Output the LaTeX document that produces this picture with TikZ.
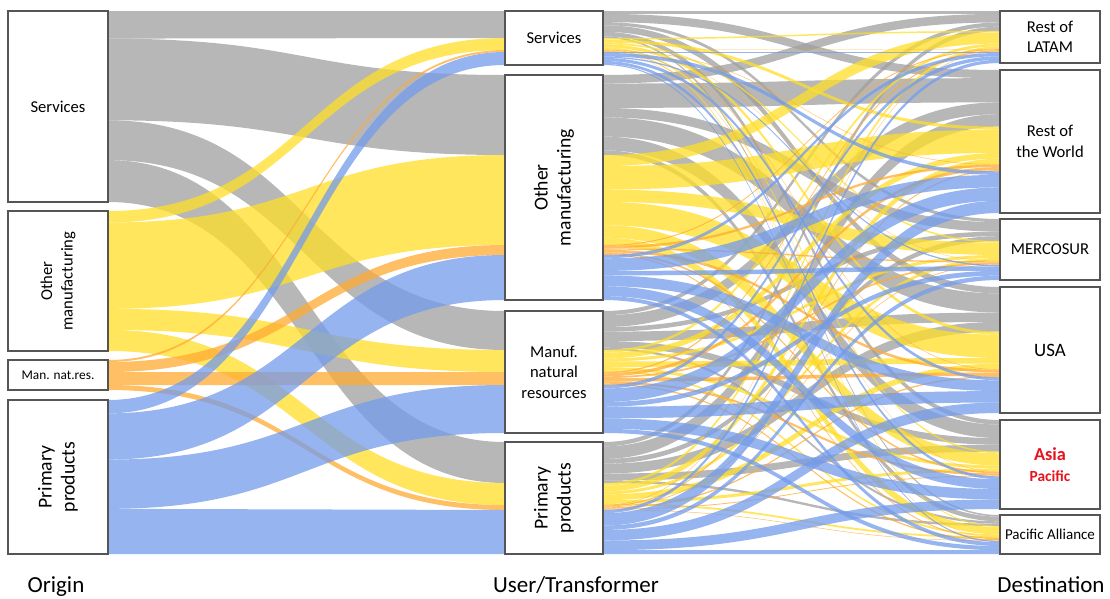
\documentclass[tikz,border=0pt]{standalone}
\usepackage{fontspec}
\setmainfont{Carlito}
\usepackage{tikz}
\definecolor{flowgray}{RGB}{160,160,160}
\definecolor{flowyellow}{RGB}{255,222,40}
\definecolor{floworange}{RGB}{255,170,50}
\definecolor{flowblue}{RGB}{115,155,235}
\definecolor{boxline}{RGB}{85,85,85}
\definecolor{asiared}{RGB}{230,20,30}
\newcommand{\FlowBand}[7]{
	\def\lxa{#1}
	\def\lxb{#4}
	\pgfmathsetmacro\lxm{(#1+#4)/2}
	\fill[#7, fill opacity=0.75] (\lxa,#2) .. controls (\lxm,#2) and (\lxm,#5) .. (\lxb,#5) -- (\lxb,#6) .. controls (\lxm,#6) and (\lxm,#3) .. (\lxa,#3) -- cycle;
}
% segment data: index 4*user+colour
\def\MidTop{{11,38,50,52,75,155,245,255,311,350,372,385,442,483,505,510}}
\def\MidH{{27,12,2,13,80,90,10,45,39,22,13,48,41,22,5,44}}
\def\MidPre{{0,0,0,0,27,12,2,13,107,102,12,58,146,124,25,106}}
\def\ColH{{187,146,30,150}}
\def\OrgTop{{11,211,360,400}}
\def\OrgH{{191,140,30,154}}
% destination data: index 6*colour+destination
\def\DestW{{20,57,22,45,32,11,18,38,20,38,20,12,3,7,4,8,5,3,11,42,15,36,33,13}}
\def\DestWPre{{0,20,77,99,144,176,0,18,56,76,114,134,0,3,10,14,22,27,0,11,53,68,104,137}}
\def\DestCPre{{0,0,0,0,0,0,20,57,22,45,32,11,38,95,42,83,52,23,41,102,46,91,57,26}}
\def\DestTop{{11,70,219,287,420,515}}
\def\DestK{{1,0.993,1,0.992,0.989,1}}

\begin{document}
\begin{tikzpicture}[x=1pt, y=-1pt,
	box/.style={draw=boxline, fill=white, line width=1.2pt, inner sep=0pt, align=center, minimum width=100pt},
	ubox/.style={box, minimum width=98pt},
	txt/.style={font=\fontsize{16.6}{20.5}\selectfont},
	bigtxt/.style={font=\fontsize{19.7}{23}\selectfont},
	axlbl/.style={font=\fontsize{23}{26}\selectfont, anchor=base}]

	\useasboundingbox (0,0) rectangle (1110,598);
	\fill[white] (0,0) rectangle (1110,598);

	% origin -> user
	\foreach \c/\col in {0/flowgray,1/flowyellow,2/floworange,3/flowblue}{
		\foreach \m in {0,...,3}{
			\pgfmathtruncatemacro\ii{4*\m+\c}
			\pgfmathsetmacro\ka{\OrgH[\c]/\ColH[\c]}
			\pgfmathsetmacro\ya{\OrgTop[\c]+\ka*\MidPre[\ii]}
			\pgfmathsetmacro\yb{\ya+\ka*\MidH[\ii]}
			\pgfmathsetmacro\yc{\MidTop[\ii]}
			\pgfmathsetmacro\yd{\yc+\MidH[\ii]}
			\FlowBand{108}{\ya}{\yb}{505}{\yc}{\yd}{\col}
		}
	}

	% user -> destination
	\foreach \c/\col in {0/flowgray,1/flowyellow,2/floworange,3/flowblue}{
		\foreach \m in {0,...,3}{
			\foreach \d in {0,...,5}{
				\pgfmathtruncatemacro\ii{4*\m+\c}
				\pgfmathtruncatemacro\jj{6*\c+\d}
				\pgfmathsetmacro\fr{\MidH[\ii]/\ColH[\c]}
				\pgfmathsetmacro\ya{\MidTop[\ii]+\fr*\DestWPre[\jj]}
				\pgfmathsetmacro\yb{\ya+\fr*\DestW[\jj]}
				\pgfmathsetmacro\yc{\DestTop[\d]+\DestK[\d]*(\DestCPre[\jj]+\DestW[\jj]*\MidPre[\ii]/\ColH[\c])}
				\pgfmathsetmacro\yd{\yc+\DestK[\d]*\fr*\DestW[\jj]}
				\FlowBand{603}{\ya}{\yb}{1000}{\yc}{\yd}{\col}
			}
		}
	}

	\node[box, txt, minimum height=191pt] (oServ) at (58,106.5) {Services};
	\node[box, txt, rotate=90, minimum width=140pt, minimum height=100pt] (oOther) at (58,281) {Other\\manufacturing};
	\node[box, font=\fontsize{13.3}{16}\selectfont, minimum height=30pt] (oMan) at (58,375) {Man. nat.res.};
	\node[box, bigtxt, rotate=90, minimum width=154pt, minimum height=100pt] (oPrim) at (58,477) {Primary\\products};

	\node[ubox, txt, minimum height=54pt] (uServ) at (554,38) {Services};
	\node[box, bigtxt, rotate=90, minimum width=225pt, minimum height=98pt] (uOther) at (554,187.5) {Other\\manufacturing};
	\node[ubox, txt, minimum height=122pt] (uMan) at (554,372) {Manuf.\\natural\\resources};
	\node[box, bigtxt, rotate=90, minimum width=112pt, minimum height=98pt] (uPrim) at (554,498) {Primary\\products};

	\node[box, txt, minimum height=52pt] (dLatam) at (1050,37) {Rest of\\LATAM};
	\node[box, txt, minimum height=143pt] (dWorld) at (1050,141.5) {Rest of\\the World};
	\node[box, txt, minimum height=61pt] (dMerc) at (1050,249.5) {MERCOSUR};
	\node[box, font=\fontsize{18.9}{22}\selectfont, minimum height=126pt] (dUsa) at (1050,350) {USA};
	\node[box, text=asiared, font=\fontsize{15.4}{21}\selectfont\bfseries, minimum height=89pt] (dAsia) at (1050,464.5) {{\fontsize{18.3}{21}\selectfont Asia}\\Pacific};
	\node[box, font=\fontsize{15}{18}\selectfont, minimum height=39pt] (dPa) at (1050,534.5) {Pacific Alliance};

	\node[axlbl] (lOrigin) at (56,592) {Origin};
	\node[axlbl] (lUser) at (576,592) {User/Transformer};
	\node[axlbl] (lDest) at (1051,592) {Destination};

\end{tikzpicture}
\end{document}
